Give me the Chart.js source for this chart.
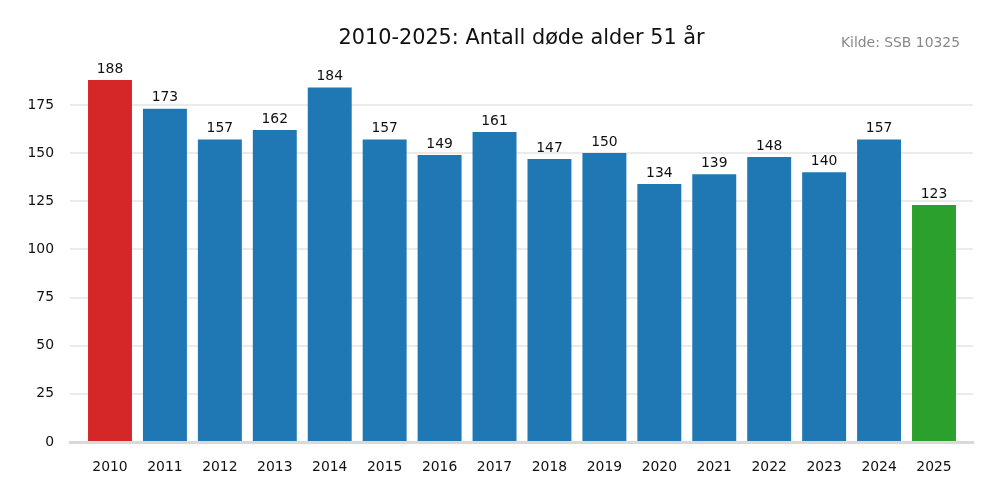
<!DOCTYPE html>
<html lang="no">
<head>
  <meta charset="UTF-8" />
  <title>Antall døde alder 51 år</title>
  <script src="https://cdn.jsdelivr.net/npm/chart.js"></script>
  <style>
    html, body { margin: 0; padding: 0; background: #fff; }
    #wrap { width: 1000px; height: 500px; }
  </style>
</head>
<body>
  <div id="wrap"><canvas id="chart"></canvas></div>
  <script>
    const years = ['2010', '2011', '2012', '2013', '2014', '2015', '2016', '2017',
                   '2018', '2019', '2020', '2021', '2022', '2023', '2024', '2025'];
    const deaths = [188, 173, 157, 162, 184, 157, 149, 161, 147, 150, 134, 139, 148, 140, 157, 123];
    const yTicks = [0, 25, 50, 75, 100, 125, 150, 175];

    const FONT = 'DejaVu Sans';
    const SMALL = 13.9;

    // farge: første år rødt, siste år grønt, resten blått
    const barColors = years.map((y, i) =>
      i === 0 ? '#d62728' : (i === years.length - 1 ? '#2ca02c' : '#1f77b4'));

    // tittel, kilde og verdier over søylene
    const extras = {
      id: 'extras',
      afterDatasetsDraw(chart) {
        const ctx = chart.ctx;
        const area = chart.chartArea;
        ctx.save();
        ctx.fillStyle = '#111';
        ctx.font = '20.8px "' + FONT + '"';
        ctx.textAlign = 'center';
        ctx.textBaseline = 'middle';
        ctx.fillText('2010-2025: Antall døde alder 51 år', (area.left + area.right) / 2, 38.5);

        ctx.fillStyle = '#888';
        ctx.font = SMALL + 'px "' + FONT + '"';
        ctx.textAlign = 'right';
        ctx.fillText('Kilde: SSB 10325', 960, 43.5);

        ctx.fillStyle = '#111';
        ctx.textAlign = 'center';
        ctx.textBaseline = 'bottom';
        chart.getDatasetMeta(0).data.forEach((bar, i) => {
          ctx.fillText(String(deaths[i]), bar.x, bar.y - 4);
        });
        ctx.restore();
      }
    };

    new Chart(document.getElementById('chart'), {
      type: 'bar',
      data: {
        datasets: [{
          data: deaths.map((v, i) => ({ x: i, y: v })),
          backgroundColor: barColors,
          borderWidth: 0,
          barPercentage: 0.8,
          categoryPercentage: 1.0
        }]
      },
      options: {
        responsive: true,
        maintainAspectRatio: false,
        animation: false,
        layout: { padding: { top: 62, right: 27, left: 0, bottom: 0 } },
        plugins: { legend: { display: false }, tooltip: { enabled: false } },
        scales: {
          x: {
            type: 'linear',
            offset: false,
            min: -0.728,
            max: 15.71,
            afterBuildTicks: (scale) => { scale.ticks = years.map((_, i) => ({ value: i })); },
            afterFit: (scale) => { scale.height = 58; },
            grid: { display: false, drawTicks: false, offset: false },
            border: { display: true, color: '#d9d9d9', width: 3 },
            ticks: {
              padding: 17,
              color: '#111',
              font: { family: FONT, size: SMALL },
              callback: (v) => years[v]
            }
          },
          y: {
            min: 0,
            max: 197.3,
            afterBuildTicks: (scale) => { scale.ticks = yTicks.map(v => ({ value: v })); },
            afterFit: (scale) => { scale.width = 70; },
            grid: { color: '#ebebeb', lineWidth: 2, drawTicks: false },
            border: { display: false },
            ticks: {
              padding: 16,
              color: '#111',
              font: { family: FONT, size: SMALL }
            }
          }
        }
      },
      plugins: [extras]
    });
  </script>
</body>
</html>
